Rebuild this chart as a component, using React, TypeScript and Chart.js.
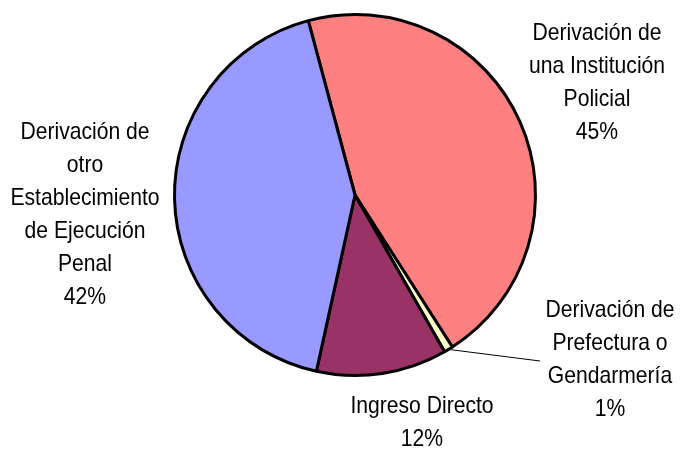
import React, { useEffect, useRef } from "react";
import { Chart, registerables } from "chart.js";

Chart.register(...registerables);

const categories = [
  "Derivación de una Institución Policial",
  "Derivación de Prefectura o Gendarmería",
  "Ingreso Directo",
  "Derivación de otro Establecimiento de Ejecución Penal",
];
const values = [45.1, 0.8, 11.7, 42.4];
const percentLabels = ["45%", "1%", "12%", "42%"];
const labelLines = [
  ["Derivación de", "una Institución", "Policial"],
  ["Derivación de", "Prefectura o", "Gendarmería"],
  ["Ingreso Directo"],
  ["Derivación de", "otro", "Establecimiento", "de Ejecución", "Penal"],
];
const colors = ["#FF8080", "#FFFFCC", "#993366", "#9999FF"];

// label block placement relative to pie centre: [centre x offset, first baseline offset]
const labelPlacement = [
  [242, -155],
  [255, 122],
  [67, 218],
  [-270, -56],
];
const leaderEnd = [185, 166]; // for the small slice
const FONT = "24px 'Liberation Sans', Arial, sans-serif";
const X_SCALE = 0.88;
const LINE_H = 33;

const labelPlugin = {
  id: "outerLabels",
  afterDraw(chart: any) {
    const ctx = chart.ctx;
    const meta = chart.getDatasetMeta(0);
    const arc0 = meta.data[0];
    const cx = arc0.x;
    const cy = arc0.y;
    ctx.save();
    const a1 = meta.data[1];
    const mid = (a1.startAngle + a1.endAngle) / 2;
    const r = a1.outerRadius;
    ctx.beginPath();
    ctx.strokeStyle = "#000";
    ctx.lineWidth = 1;
    ctx.moveTo(cx + Math.cos(mid) * r, cy + Math.sin(mid) * r);
    ctx.lineTo(cx + leaderEnd[0], cy + leaderEnd[1]);
    ctx.stroke();

    ctx.font = FONT;
    ctx.fillStyle = "#000";
    ctx.textAlign = "center";
    ctx.textBaseline = "alphabetic";
    labelLines.forEach((lines, i) => {
      const all = [...lines, percentLabels[i]];
      const x = cx + labelPlacement[i][0];
      const y0 = cy + labelPlacement[i][1];
      all.forEach((t, j) => {
        ctx.save();
        ctx.translate(x, y0 + j * LINE_H);
        ctx.scale(X_SCALE, 1);
        ctx.fillText(t, 0, 0);
        ctx.restore();
      });
    });
    ctx.restore();
  },
};

export default function App() {
  const ref = useRef<HTMLCanvasElement>(null);
  useEffect(() => {
    if (!ref.current) return;
    const chart = new Chart(ref.current, {
      type: "pie",
      data: {
        labels: categories,
        datasets: [
          {
            data: values,
            backgroundColor: colors,
            borderColor: "#000",
            borderWidth: 3,
          },
        ],
      },
      options: {
        responsive: false,
        animation: false,
        rotation: -15,
        layout: { padding: { left: 173, right: 143, top: 13, bottom: 73 } },
        plugins: {
          legend: { display: false },
          tooltip: { enabled: false },
        },
      },
      plugins: [labelPlugin],
    });
    return () => chart.destroy();
  }, []);
  return (
    <div style={{ position: "fixed", left: 0, top: 0, width: 680, height: 450, background: "#fff" }}>
      <canvas ref={ref} width={680} height={450} />
    </div>
  );
}
